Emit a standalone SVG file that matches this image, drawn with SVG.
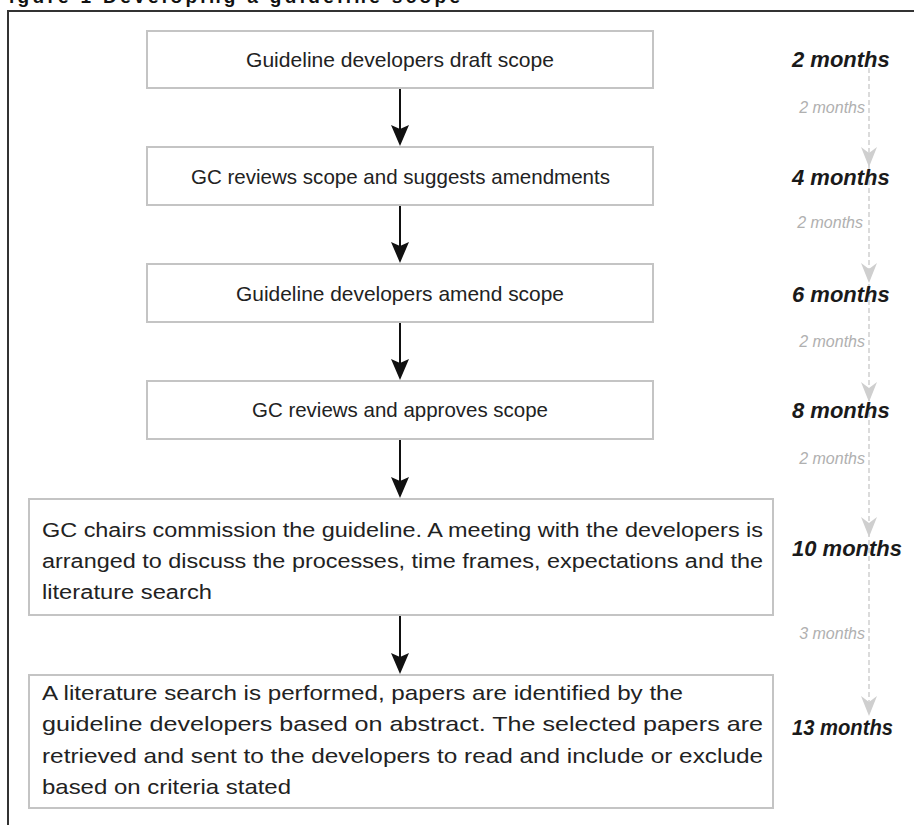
<svg xmlns="http://www.w3.org/2000/svg" width="914" height="825" viewBox="0 0 914 825">
<defs>
<style>
.box{fill:#fff;stroke:#c4c4c4;stroke-width:2}
.t{font-family:"Liberation Sans",Arial,sans-serif;font-size:20px;fill:#222}
.tb{font-family:"Liberation Sans",Arial,sans-serif;font-size:21px;fill:#222}
.t6{font-family:"Liberation Sans",Arial,sans-serif;font-size:21px;fill:#222}
.lab{font-family:"Liberation Sans",Arial,sans-serif;font-size:22px;font-weight:bold;font-style:italic;fill:#1a1a1a}
.gl{font-family:"Liberation Sans",Arial,sans-serif;font-size:16px;font-style:italic;fill:#b0b0b0;text-anchor:end}
.arr{stroke:#111;stroke-width:2;fill:none}
.ah{fill:#111}
.gah{fill:#cfcfcf}
</style>
</defs>
<rect width="914" height="825" fill="#fff"/>
<text x="-6" y="3" font-family="Liberation Sans, Arial, sans-serif" font-size="19" font-weight="bold" fill="#111" textLength="466" lengthAdjust="spacing">Figure 1 Developing a guideline scope</text>
<rect x="8" y="11" width="920" height="830" fill="#fff" stroke="#333" stroke-width="2"/>

<g id="timeline">
<line x1="869" y1="68" x2="869" y2="712" stroke="#d0d0d0" stroke-width="1.5" stroke-dasharray="5,3"/>
<polygon class="gah" points="861,147 869,153 877,147 869,167"/>
<polygon class="gah" points="861,263 869,269 877,263 869,283"/>
<polygon class="gah" points="861,382 869,388 877,382 869,402"/>
<polygon class="gah" points="861,517 869,523 877,517 869,537"/>
<polygon class="gah" points="861,696 869,702 877,696 869,716"/>
<text class="gl" x="865" y="113">2 months</text>
<text class="gl" x="863" y="228">2 months</text>
<text class="gl" x="865" y="347">2 months</text>
<text class="gl" x="865" y="464">2 months</text>
<text class="gl" x="865" y="639">3 months</text>
<text class="lab" x="792" y="67">2 months</text>
<text class="lab" x="792" y="185">4 months</text>
<text class="lab" x="792" y="302">6 months</text>
<text class="lab" x="792" y="418">8 months</text>
<text class="lab" x="792" y="556">10 months</text>
<text class="lab" x="792" y="735" textLength="101" lengthAdjust="spacingAndGlyphs">13 months</text>
</g>

<g id="connectors">
<line class="arr" x1="400" y1="88" x2="400" y2="130"/>
<polygon class="ah" points="391,125 400,129 409,125 400,146"/>
<line class="arr" x1="400" y1="205" x2="400" y2="247"/>
<polygon class="ah" points="391,242 400,246 409,242 400,263"/>
<line class="arr" x1="400" y1="322" x2="400" y2="364"/>
<polygon class="ah" points="391,359 400,363 409,359 400,380"/>
<line class="arr" x1="400" y1="439" x2="400" y2="482"/>
<polygon class="ah" points="391,477 400,481 409,477 400,498"/>
<line class="arr" x1="400" y1="615" x2="400" y2="658"/>
<polygon class="ah" points="391,653 400,657 409,653 400,674"/>
</g>

<g id="n1">
<rect class="box" x="147" y="31" width="506" height="57"/>
<text class="tb" x="246" y="67" textLength="308" lengthAdjust="spacingAndGlyphs">Guideline developers draft scope</text>
</g>
<g id="n2">
<rect class="box" x="147" y="147" width="506" height="58"/>
<text class="tb" x="191" y="184" textLength="419" lengthAdjust="spacingAndGlyphs">GC reviews scope and suggests amendments</text>
</g>
<g id="n3">
<rect class="box" x="147" y="264" width="506" height="58"/>
<text class="tb" x="236" y="301" textLength="328" lengthAdjust="spacingAndGlyphs">Guideline developers amend scope</text>
</g>
<g id="n4">
<rect class="box" x="147" y="381" width="506" height="58"/>
<text class="tb" x="252" y="417" textLength="296" lengthAdjust="spacingAndGlyphs">GC reviews and approves scope</text>
</g>
<g id="n5">
<rect class="box" x="29" y="499" width="744" height="116"/>
<text class="t" x="42" y="537" textLength="721" lengthAdjust="spacingAndGlyphs">GC chairs commission the guideline.  A meeting with the developers is</text>
<text class="t" x="42" y="568" textLength="721" lengthAdjust="spacingAndGlyphs">arranged to discuss the processes, time frames, expectations and the</text>
<text class="t" x="42" y="599" textLength="170" lengthAdjust="spacingAndGlyphs">literature search</text>
</g>
<g id="n6">
<rect class="box" x="29" y="675" width="744" height="133"/>
<text class="t6" x="42" y="700" textLength="641" lengthAdjust="spacingAndGlyphs">A literature search is performed, papers are identified by the</text>
<text class="t6" x="42" y="731" textLength="721" lengthAdjust="spacingAndGlyphs">guideline developers based on abstract. The selected papers are</text>
<text class="t6" x="42" y="763" textLength="721" lengthAdjust="spacingAndGlyphs">retrieved and sent to the developers to read and include or exclude</text>
<text class="t6" x="42" y="794" textLength="249" lengthAdjust="spacingAndGlyphs">based on criteria stated</text>
</g>
</svg>
